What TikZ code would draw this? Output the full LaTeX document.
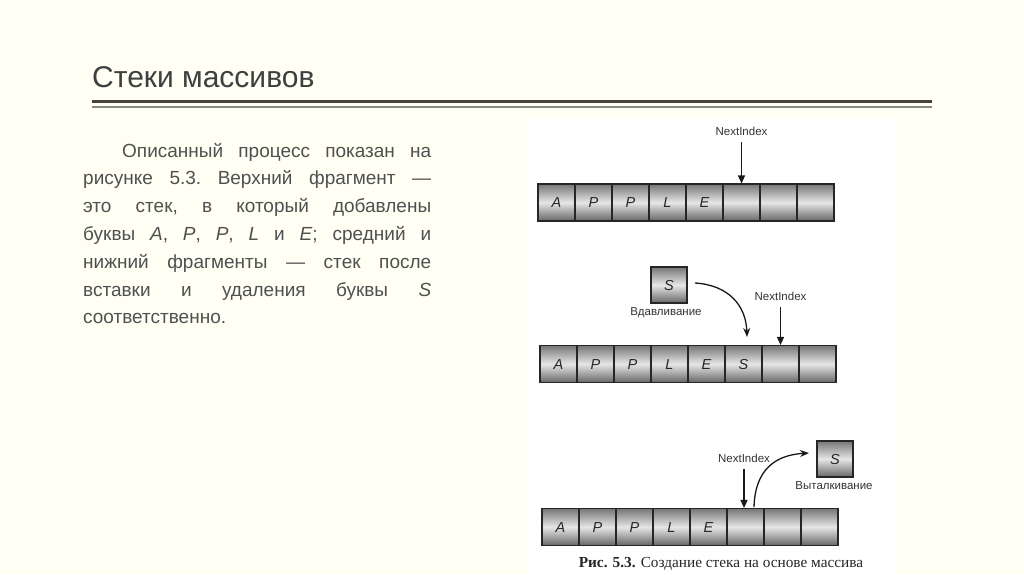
\documentclass[tikz,border=0pt]{standalone}
\usepackage{fontspec}
\setmainfont{Liberation Sans}
\newfontfamily\capfont{Liberation Serif}
\usetikzlibrary{arrows.meta}
\definecolor{slidebg}{HTML}{FFFFF3}
\definecolor{titlecol}{HTML}{3F3F3F}
\definecolor{bodycol}{HTML}{505050}
\definecolor{ruledark}{HTML}{45443F}
\definecolor{rulelight}{HTML}{8A8A85}
\definecolor{celltop}{HTML}{767676}
\definecolor{cellmid}{HTML}{E6E6E6}
\definecolor{cellbot}{HTML}{666666}
\tikzset{
  cell/.style={draw=black!85, line width=1.1pt, minimum width=37pt, minimum height=37pt,
    inner sep=0pt, text height=10.5pt, text depth=0pt,
    top color=celltop, bottom color=cellbot, middle color=cellmid,
    font=\fontsize{14.5}{16}\selectfont\itshape, text=black!85},
  sbox/.style={cell, minimum width=36pt, minimum height=36pt},
  lbl/.style={font=\fontsize{11.5}{13}\selectfont, text=black!80, inner sep=0pt},
  arr/.style={-{Stealth[length=8pt,width=7pt,inset=0pt]}, line width=1.3pt, black!90},
  carr/.style={-{Stealth[length=9pt,width=7pt]}, line width=1.3pt, black!90}
}
\begin{document}
\begin{tikzpicture}[x=1pt,y=-1pt]
\fill[slidebg] (0,0) rectangle (1024,574);
\useasboundingbox (0,0) rectangle (1024,574);
\fill[white] (527,119) rectangle (896,574);

% title
\node[anchor=base west, inner sep=0pt, text=titlecol, font=\fontsize{30}{35}\selectfont] (title) at (92,87) {Стеки массивов};
\draw[ruledark, line width=3pt] (92,101) -- (932,101);
\draw[rulelight, line width=1.5pt] (92,107) -- (932,107);

% body text
\node[anchor=base west, inner sep=0pt, text=bodycol] (body) at (83,157) {\parbox[t]{348pt}{\frenchspacing\fontsize{19}{27.8}\selectfont
\makebox[348pt][s]{\hspace*{39pt}Описанный процесс показан на}\\
\makebox[348pt][s]{рисунке 5.3. Верхний фрагмент —}\\
\makebox[348pt][s]{это стек, в который добавлены}\\
\makebox[348pt][s]{буквы \textit{A}, \textit{P}, \textit{P}, \textit{L} и \textit{E}; средний и}\\
\makebox[348pt][s]{нижний фрагменты — стек после}\\
\makebox[348pt][s]{вставки и удаления буквы \textit{S}}\\
соответственно.}};

% row 1
\foreach \i/\t in {1/A,2/P,3/P,4/L,5/E,6/,7/,8/}
  \node[cell] (a\i) at ({538+37*(\i-0.5)},202.5) {\t};
\node[lbl] (ni1) at (741.5,131) {NextIndex};
\draw[arr] ([yshift=-7pt]ni1.south) -- (a6.north);

% row 2
\foreach \i/\t in {1/A,2/P,3/P,4/L,5/E,6/S,7/,8/}
  \node[cell] (b\i) at ({540+37*(\i-0.5)},364) {\t};
\node[sbox] (s2) at (669,285) {S};
\node[lbl] (push) at (666,313) {Вдавливание};
\node[lbl] (ni2) at (780.5,296) {NextIndex};
\draw[arr] ([yshift=-7pt]ni2.south) -- (b7.north);
\coordinate (p2a) at (695,283);
\coordinate (p2b) at (747,337);
\draw[carr] (p2a) .. controls (728,285) and (746,305) .. (p2b);

% row 3
\foreach \i/\t in {1/A,2/P,3/P,4/L,5/E,6/,7/,8/}
  \node[cell] (c\i) at ({542+37*(\i-0.5)},527) {\t};
\node[sbox] (s3) at (835,459) {S};
\node[lbl] (pop) at (834,486) {Выталкивание};
\node[lbl] (ni3) at (744,458) {NextIndex};
\draw[arr] ([yshift=-7pt]ni3.south) -- ([xshift=-1.5pt]c6.north);
\coordinate (p3a) at (754,507);
\coordinate (p3b) at (809,453);
\draw[carr] (p3a) .. controls (755,470) and (775,455) .. (p3b);

% caption
\node[anchor=base, inner sep=0pt, text=black!85, font=\capfont\fontsize{15.3}{17}\selectfont] (cap) at (721,567) {\textbf{Рис. 5.3.} Создание стека на основе массива};
\end{tikzpicture}
\end{document}
